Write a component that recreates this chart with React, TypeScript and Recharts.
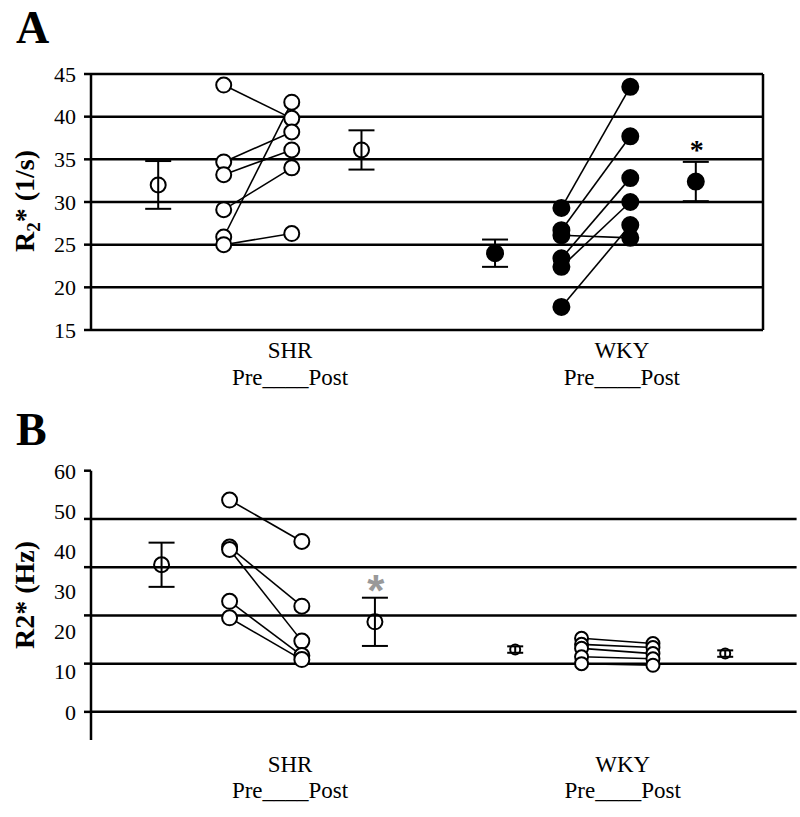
import React from "react";
import {
  CartesianGrid, ErrorBar, ReferenceDot, ReferenceLine, Scatter, ScatterChart, XAxis, YAxis,
} from "recharts";

const FONT = '"Liberation Serif", "Times New Roman", serif';
const INK = "#000";

// group labels under both panels
const GROUPS = ["SHR", "WKY"];
const SUBLABEL = "Pre____Post";

// ---- panel A: R2* (1/s) ----
const A_TICKS = [15, 20, 25, 30, 35, 40, 45];
// x slots: SHR mean pre, pre, post, mean post, then WKY the same
const A_SLOTS = [0.8, 1.58, 2.39, 3.22, 4.81, 5.6, 6.42, 7.2];
const A_GROUP_X = [2.37, 6.32];
const A_SHR_PRE = [43.7, 34.7, 33.2, 29.1, 25.9, 25.0];
const A_SHR_POST = [39.8, 38.2, 36.1, 34.0, 41.7, 26.3];
const A_WKY_PRE = [29.3, 26.7, 26.1, 23.4, 22.4, 17.7];
const A_WKY_POST = [43.5, 37.7, 25.8, 32.8, 30.0, 27.3];
const A_SHR_MEAN = [32.0, 36.1];
const A_SHR_ERR = [2.8, 2.3];
const A_WKY_MEAN = [24.0, 32.4];
const A_WKY_ERR = [1.6, 2.3];

// ---- panel B: R2* (Hz) ----
const B_LABELS = [0, 10, 20, 30, 40, 50, 60];
const B_GRID = [0, 12, 24, 36, 48];
const B_SLOTS = [0.84, 1.65, 2.51, 3.38, 5.05, 5.84, 6.69, 7.55];
const B_GROUP_X = [2.37, 6.33];
const B_SHR_PRE = [52.7, 41.0, 40.4, 27.5, 23.4];
const B_SHR_POST = [42.4, 26.3, 17.6, 14.0, 13.0];
const B_WKY_PRE = [18.3, 16.8, 15.8, 13.7, 12.0];
const B_WKY_POST = [17.0, 16.0, 14.5, 13.2, 11.6];
const B_SHR_MEAN = [36.6, 22.4];
const B_SHR_ERR = [5.5, 6.0];
const B_WKY_MEAN = [15.5, 14.5];
const B_WKY_ERR = [0.8, 0.8];

const pairs = (pre: number[], post: number[], x0: number, x1: number) =>
  pre.map((v, i) => [{ x: x0, y: v }, { x: x1, y: post[i] }]);

const points = (vals: number[], x: number) => vals.map((y) => ({ x, y }));

const means = (m: number[], e: number[], x0: number, x1: number) => [
  { x: x0, y: m[0], err: e[0] },
  { x: x1, y: m[1], err: e[1] },
];

const ring = (r: number, fill: string) => (p: any) =>
  <circle cx={p.cx} cy={p.cy} r={r} fill={fill} stroke={INK} strokeWidth={2} />;

const noDot = () => <g />;

function groupTick(ticks: number[], dy1: number, dy2: number) {
  return (p: any) => {
    const i = ticks.indexOf(p.payload.value);
    return (
      <g>
        <text x={p.x} y={p.y + dy1} textAnchor="middle" fontFamily={FONT} fontSize={23} fill={INK}>{GROUPS[i]}</text>
        <text x={p.x} y={p.y + dy2} textAnchor="middle" fontFamily={FONT} fontSize={23} fill={INK}>{SUBLABEL}</text>
      </g>
    );
  };
}

// panel B has labels that do not sit on its gridlines; marks only where grid lines are
function bTick(p: any) {
  const v = p.payload.value;
  const mark = B_GRID.includes(v) || v === 60;
  const label = B_LABELS.includes(v);
  return (
    <g>
      {mark && <line x1={p.x + 8} x2={p.x + 15} y1={p.y} y2={p.y} stroke={INK} strokeWidth={2.5} />}
      {label && (
        <text x={p.x} y={p.y} dy="0.355em" textAnchor="end" fontFamily={FONT} fontSize={22} fill={INK}>{v}</text>
      )}
    </g>
  );
}

export default function App() {
  const aShr = pairs(A_SHR_PRE, A_SHR_POST, A_SLOTS[1], A_SLOTS[2]);
  const aWky = pairs(A_WKY_PRE, A_WKY_POST, A_SLOTS[5], A_SLOTS[6]);
  const bShr = pairs(B_SHR_PRE, B_SHR_POST, B_SLOTS[1], B_SLOTS[2]);
  const bWky = pairs(B_WKY_PRE, B_WKY_POST, B_SLOTS[5], B_SLOTS[6]);
  const bTicks = [...new Set([...B_LABELS, ...B_GRID])].sort((a, b) => a - b);
  const lineStyle = { stroke: INK, strokeWidth: 1.6 };

  return (
    <div style={{ position: "absolute", left: 0, top: 0, width: 800, height: 817, background: "#fff" }}>
      <div style={{ position: "absolute", left: 0, top: 0 }}>
        <ScatterChart width={800} height={400} margin={{ top: 74, right: 37, bottom: 10, left: 0 }}>
          <CartesianGrid horizontal vertical={false} stroke={INK} strokeWidth={2.5} />
          <XAxis type="number" dataKey="x" domain={[0, 8]} ticks={A_GROUP_X} interval={0}
            tick={groupTick(A_GROUP_X, 28, 55)} axisLine={false} tickLine={false} tickSize={0} tickMargin={0} height={60} />
          <YAxis type="number" dataKey="y" domain={[15, 45]} ticks={A_TICKS} interval={0} width={91}
            tickSize={7} tickMargin={8} axisLine={{ stroke: INK, strokeWidth: 2.5 }} tickLine={{ stroke: INK, strokeWidth: 2.5 }}
            tick={{ fill: INK, fontSize: 22, fontFamily: FONT }} />
          <ReferenceLine x={8} stroke={INK} strokeWidth={2.5} />
          {aShr.map((d, i) => (
            <Scatter key={`as${i}`} data={d} line={lineStyle} shape={noDot} isAnimationActive={false} />
          ))}
          {aWky.map((d, i) => (
            <Scatter key={`aw${i}`} data={d} line={lineStyle} shape={noDot} isAnimationActive={false} />
          ))}
          <Scatter data={means(A_SHR_MEAN, A_SHR_ERR, A_SLOTS[0], A_SLOTS[3])} shape={ring(7.5, "none")} isAnimationActive={false}>
            <ErrorBar dataKey="err" direction="y" width={13} stroke={INK} strokeWidth={2} isAnimationActive={false} />
          </Scatter>
          <Scatter data={means(A_WKY_MEAN, A_WKY_ERR, A_SLOTS[4], A_SLOTS[7])} shape={ring(8, INK)} isAnimationActive={false}>
            <ErrorBar dataKey="err" direction="y" width={13} stroke={INK} strokeWidth={2} isAnimationActive={false} />
          </Scatter>
          <Scatter data={[...points(A_SHR_PRE, A_SLOTS[1]), ...points(A_SHR_POST, A_SLOTS[2])]}
            shape={ring(7.5, "#fff")} isAnimationActive={false} />
          <Scatter data={[...points(A_WKY_PRE, A_SLOTS[5]), ...points(A_WKY_POST, A_SLOTS[6])]}
            shape={ring(8, INK)} isAnimationActive={false} />
          <ReferenceDot x={A_SLOTS[7]} y={A_WKY_MEAN[1] + A_WKY_ERR[1]} r={0}
            shape={(p: any) => (
              <text x={p.cx + 1} y={p.cy - 3} textAnchor="middle" fontFamily={FONT} fontWeight="bold"
                fontSize={28} fill={INK}>*</text>
            )} />
        </ScatterChart>
      </div>

      <div style={{ position: "absolute", left: 0, top: 400 }}>
        <ScatterChart width={800} height={417} margin={{ top: 70.7, right: 3.4, bottom: 7, left: 0 }}>
          <XAxis type="number" dataKey="x" domain={[0, 8.4]} ticks={B_GROUP_X} interval={0}
            tick={groupTick(B_GROUP_X, 31.7, 58)} axisLine={false} tickLine={false} tickSize={0} tickMargin={0} height={70} />
          <YAxis type="number" dataKey="y" domain={[-7, 60]} ticks={bTicks} interval={0} width={91}
            tickSize={7} tickMargin={8} axisLine={{ stroke: INK, strokeWidth: 2.5 }} tickLine={false} tick={bTick} />
          {B_GRID.map((v) => (
            <ReferenceLine key={v} y={v} stroke={INK} strokeWidth={2.5} />
          ))}
          {bShr.map((d, i) => (
            <Scatter key={`bs${i}`} data={d} line={lineStyle} shape={noDot} isAnimationActive={false} />
          ))}
          {bWky.map((d, i) => (
            <Scatter key={`bw${i}`} data={d} line={lineStyle} shape={noDot} isAnimationActive={false} />
          ))}
          <Scatter data={means(B_SHR_MEAN, B_SHR_ERR, B_SLOTS[0], B_SLOTS[3])} shape={ring(7.5, "none")} isAnimationActive={false}>
            <ErrorBar dataKey="err" direction="y" width={13} stroke={INK} strokeWidth={2} isAnimationActive={false} />
          </Scatter>
          <Scatter data={means(B_WKY_MEAN, B_WKY_ERR, B_SLOTS[4], B_SLOTS[7])} shape={ring(5, "none")} isAnimationActive={false}>
            <ErrorBar dataKey="err" direction="y" width={8} stroke={INK} strokeWidth={2} isAnimationActive={false} />
          </Scatter>
          <Scatter data={[...points(B_SHR_PRE, B_SLOTS[1]), ...points(B_SHR_POST, B_SLOTS[2])]}
            shape={ring(7.5, "#fff")} isAnimationActive={false} />
          <Scatter data={[...points(B_WKY_PRE, B_SLOTS[5]), ...points(B_WKY_POST, B_SLOTS[6])]}
            shape={ring(6.5, "#fff")} isAnimationActive={false} />
          <ReferenceDot x={B_SLOTS[3]} y={B_SHR_MEAN[1] + B_SHR_ERR[1]} r={0}
            shape={(p: any) => (
              <text x={p.cx + 1} y={p.cy + 8} textAnchor="middle" fontFamily='"Liberation Sans", Arial, sans-serif'
                fontWeight="bold" fontSize={44} fill="#999">*</text>
            )} />
        </ScatterChart>
      </div>

      <svg width={800} height={817} style={{ position: "absolute", left: 0, top: 0, pointerEvents: "none" }}>
        <text x={16} y={43} fontFamily={FONT} fontWeight="bold" fontSize={46} fill={INK}>A</text>
        <text x={16} y={445} fontFamily={FONT} fontWeight="bold" fontSize={46} fill={INK}>B</text>
        <text transform="rotate(-90 34 201)" x={34} y={201} textAnchor="middle" fontFamily={FONT}
          fontWeight="bold" fontSize={28} fill={INK}>
          R<tspan fontSize={19} dy={6}>2</tspan><tspan dy={-6}>* (1/s)</tspan>
        </text>
        <text transform="rotate(-90 34 595)" x={34} y={595} textAnchor="middle" fontFamily={FONT}
          fontWeight="bold" fontSize={28} fill={INK}>R2* (Hz)</text>
      </svg>
    </div>
  );
}
